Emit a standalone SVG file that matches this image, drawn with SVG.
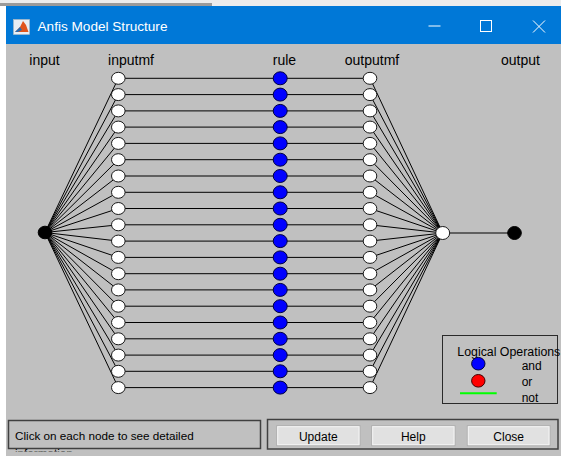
<svg xmlns="http://www.w3.org/2000/svg" width="561" height="456" viewBox="0 0 561 456">
<style>
.lbl{font-family:"Liberation Sans",Arial,sans-serif;font-size:14px;fill:#000;text-anchor:middle}
.sm{font-family:"Liberation Sans",Arial,sans-serif;font-size:12px;fill:#000}
.btn{fill:#e1e1e1;stroke:#adadad;stroke-width:1}
.btnt{font-family:"Liberation Sans",Arial,sans-serif;font-size:12px;fill:#000;text-anchor:middle}
.w{fill:#fff;stroke:#1a1a1a;stroke-width:1}
.b{fill:#0000ff;stroke:#000040;stroke-width:1}
.k{fill:#000;stroke:#000;stroke-width:1}
#connectors line{stroke:#000;stroke-width:1}
</style>
<defs>
<clipPath id="clipInfo"><rect x="9" y="421" width="251" height="30.5"/></clipPath>
</defs>
<!-- window chrome -->
<rect x="0" y="0" width="561" height="456" fill="#ffffff"/>
<rect x="0" y="0" width="561" height="6" fill="#ececec"/>
<rect x="0" y="3" width="212" height="3" fill="#9a9a9a"/>
<rect x="6" y="6" width="555" height="38" fill="#0078d7"/>
<rect x="6" y="44" width="555" height="412" fill="#c0c0c0"/>
<g id="titleicon">
<rect x="13.5" y="19.5" width="16" height="15" fill="#e8eef4" stroke="#b0b8c0" stroke-width="0.6"/>
<polygon points="15,32 20,27 23,21 26,25 28.5,32" fill="#e0541c"/>
<polygon points="15,32 20,27 22,30 18,32" fill="#2a6cb0"/>
</g>
<text x="37.5" y="30.5" font-family="'Liberation Sans',Arial,sans-serif" font-size="13.6" fill="#ffffff">Anfis Model Structure</text>
<line x1="428.5" y1="26" x2="440.5" y2="26" stroke="#ffffff" stroke-width="1"/>
<rect x="480.5" y="20.5" width="11" height="11" fill="none" stroke="#ffffff" stroke-width="1"/>
<path d="M533,20.5 L545,32.5 M545,20.5 L533,32.5" stroke="#ffffff" stroke-width="1" fill="none"/>

<!-- column labels -->
<text class="lbl" x="44.5" y="65">input</text>
<text class="lbl" x="131" y="65">inputmf</text>
<text class="lbl" x="284.5" y="65">rule</text>
<text class="lbl" x="372" y="65">outputmf</text>
<text class="lbl" x="520.5" y="65">output</text>

<g id="connectors">
<line x1="45" y1="232.5" x2="118.3" y2="78.3"/>
<line x1="45" y1="232.5" x2="118.3" y2="94.6"/>
<line x1="45" y1="232.5" x2="118.3" y2="110.9"/>
<line x1="45" y1="232.5" x2="118.3" y2="127.1"/>
<line x1="45" y1="232.5" x2="118.3" y2="143.4"/>
<line x1="45" y1="232.5" x2="118.3" y2="159.7"/>
<line x1="45" y1="232.5" x2="118.3" y2="176"/>
<line x1="45" y1="232.5" x2="118.3" y2="192.3"/>
<line x1="45" y1="232.5" x2="118.3" y2="208.5"/>
<line x1="45" y1="232.5" x2="118.3" y2="224.8"/>
<line x1="45" y1="232.5" x2="118.3" y2="241.1"/>
<line x1="45" y1="232.5" x2="118.3" y2="257.4"/>
<line x1="45" y1="232.5" x2="118.3" y2="273.7"/>
<line x1="45" y1="232.5" x2="118.3" y2="289.9"/>
<line x1="45" y1="232.5" x2="118.3" y2="306.2"/>
<line x1="45" y1="232.5" x2="118.3" y2="322.5"/>
<line x1="45" y1="232.5" x2="118.3" y2="338.8"/>
<line x1="45" y1="232.5" x2="118.3" y2="355.1"/>
<line x1="45" y1="232.5" x2="118.3" y2="371.3"/>
<line x1="45" y1="232.5" x2="118.3" y2="387.6"/>

<line x1="118.3" y1="78.3" x2="370" y2="78.3"/>
<line x1="118.3" y1="94.6" x2="370" y2="94.6"/>
<line x1="118.3" y1="110.9" x2="370" y2="110.9"/>
<line x1="118.3" y1="127.1" x2="370" y2="127.1"/>
<line x1="118.3" y1="143.4" x2="370" y2="143.4"/>
<line x1="118.3" y1="159.7" x2="370" y2="159.7"/>
<line x1="118.3" y1="176" x2="370" y2="176"/>
<line x1="118.3" y1="192.3" x2="370" y2="192.3"/>
<line x1="118.3" y1="208.5" x2="370" y2="208.5"/>
<line x1="118.3" y1="224.8" x2="370" y2="224.8"/>
<line x1="118.3" y1="241.1" x2="370" y2="241.1"/>
<line x1="118.3" y1="257.4" x2="370" y2="257.4"/>
<line x1="118.3" y1="273.7" x2="370" y2="273.7"/>
<line x1="118.3" y1="289.9" x2="370" y2="289.9"/>
<line x1="118.3" y1="306.2" x2="370" y2="306.2"/>
<line x1="118.3" y1="322.5" x2="370" y2="322.5"/>
<line x1="118.3" y1="338.8" x2="370" y2="338.8"/>
<line x1="118.3" y1="355.1" x2="370" y2="355.1"/>
<line x1="118.3" y1="371.3" x2="370" y2="371.3"/>
<line x1="118.3" y1="387.6" x2="370" y2="387.6"/>

<line x1="370" y1="78.3" x2="442.7" y2="233"/>
<line x1="370" y1="94.6" x2="442.7" y2="233"/>
<line x1="370" y1="110.9" x2="442.7" y2="233"/>
<line x1="370" y1="127.1" x2="442.7" y2="233"/>
<line x1="370" y1="143.4" x2="442.7" y2="233"/>
<line x1="370" y1="159.7" x2="442.7" y2="233"/>
<line x1="370" y1="176" x2="442.7" y2="233"/>
<line x1="370" y1="192.3" x2="442.7" y2="233"/>
<line x1="370" y1="208.5" x2="442.7" y2="233"/>
<line x1="370" y1="224.8" x2="442.7" y2="233"/>
<line x1="370" y1="241.1" x2="442.7" y2="233"/>
<line x1="370" y1="257.4" x2="442.7" y2="233"/>
<line x1="370" y1="273.7" x2="442.7" y2="233"/>
<line x1="370" y1="289.9" x2="442.7" y2="233"/>
<line x1="370" y1="306.2" x2="442.7" y2="233"/>
<line x1="370" y1="322.5" x2="442.7" y2="233"/>
<line x1="370" y1="338.8" x2="442.7" y2="233"/>
<line x1="370" y1="355.1" x2="442.7" y2="233"/>
<line x1="370" y1="371.3" x2="442.7" y2="233"/>
<line x1="370" y1="387.6" x2="442.7" y2="233"/>

<line x1="442.7" y1="233" x2="514.5" y2="233"/>
</g>

<g id="input1"><ellipse class="k" cx="45" cy="232.5" rx="6.8" ry="6.3"/></g>

<g id="inputmf1"><ellipse class="w" cx="118.3" cy="78.3" rx="6.8" ry="6"/></g>
<g id="inputmf2"><ellipse class="w" cx="118.3" cy="94.6" rx="6.8" ry="6"/></g>
<g id="inputmf3"><ellipse class="w" cx="118.3" cy="110.9" rx="6.8" ry="6"/></g>
<g id="inputmf4"><ellipse class="w" cx="118.3" cy="127.1" rx="6.8" ry="6"/></g>
<g id="inputmf5"><ellipse class="w" cx="118.3" cy="143.4" rx="6.8" ry="6"/></g>
<g id="inputmf6"><ellipse class="w" cx="118.3" cy="159.7" rx="6.8" ry="6"/></g>
<g id="inputmf7"><ellipse class="w" cx="118.3" cy="176" rx="6.8" ry="6"/></g>
<g id="inputmf8"><ellipse class="w" cx="118.3" cy="192.3" rx="6.8" ry="6"/></g>
<g id="inputmf9"><ellipse class="w" cx="118.3" cy="208.5" rx="6.8" ry="6"/></g>
<g id="inputmf10"><ellipse class="w" cx="118.3" cy="224.8" rx="6.8" ry="6"/></g>
<g id="inputmf11"><ellipse class="w" cx="118.3" cy="241.1" rx="6.8" ry="6"/></g>
<g id="inputmf12"><ellipse class="w" cx="118.3" cy="257.4" rx="6.8" ry="6"/></g>
<g id="inputmf13"><ellipse class="w" cx="118.3" cy="273.7" rx="6.8" ry="6"/></g>
<g id="inputmf14"><ellipse class="w" cx="118.3" cy="289.9" rx="6.8" ry="6"/></g>
<g id="inputmf15"><ellipse class="w" cx="118.3" cy="306.2" rx="6.8" ry="6"/></g>
<g id="inputmf16"><ellipse class="w" cx="118.3" cy="322.5" rx="6.8" ry="6"/></g>
<g id="inputmf17"><ellipse class="w" cx="118.3" cy="338.8" rx="6.8" ry="6"/></g>
<g id="inputmf18"><ellipse class="w" cx="118.3" cy="355.1" rx="6.8" ry="6"/></g>
<g id="inputmf19"><ellipse class="w" cx="118.3" cy="371.3" rx="6.8" ry="6"/></g>
<g id="inputmf20"><ellipse class="w" cx="118.3" cy="387.6" rx="6.8" ry="6"/></g>

<g id="rule1"><ellipse class="b" cx="280.2" cy="78.3" rx="7" ry="6.5"/></g>
<g id="rule2"><ellipse class="b" cx="280.2" cy="94.6" rx="7" ry="6.5"/></g>
<g id="rule3"><ellipse class="b" cx="280.2" cy="110.9" rx="7" ry="6.5"/></g>
<g id="rule4"><ellipse class="b" cx="280.2" cy="127.1" rx="7" ry="6.5"/></g>
<g id="rule5"><ellipse class="b" cx="280.2" cy="143.4" rx="7" ry="6.5"/></g>
<g id="rule6"><ellipse class="b" cx="280.2" cy="159.7" rx="7" ry="6.5"/></g>
<g id="rule7"><ellipse class="b" cx="280.2" cy="176" rx="7" ry="6.5"/></g>
<g id="rule8"><ellipse class="b" cx="280.2" cy="192.3" rx="7" ry="6.5"/></g>
<g id="rule9"><ellipse class="b" cx="280.2" cy="208.5" rx="7" ry="6.5"/></g>
<g id="rule10"><ellipse class="b" cx="280.2" cy="224.8" rx="7" ry="6.5"/></g>
<g id="rule11"><ellipse class="b" cx="280.2" cy="241.1" rx="7" ry="6.5"/></g>
<g id="rule12"><ellipse class="b" cx="280.2" cy="257.4" rx="7" ry="6.5"/></g>
<g id="rule13"><ellipse class="b" cx="280.2" cy="273.7" rx="7" ry="6.5"/></g>
<g id="rule14"><ellipse class="b" cx="280.2" cy="289.9" rx="7" ry="6.5"/></g>
<g id="rule15"><ellipse class="b" cx="280.2" cy="306.2" rx="7" ry="6.5"/></g>
<g id="rule16"><ellipse class="b" cx="280.2" cy="322.5" rx="7" ry="6.5"/></g>
<g id="rule17"><ellipse class="b" cx="280.2" cy="338.8" rx="7" ry="6.5"/></g>
<g id="rule18"><ellipse class="b" cx="280.2" cy="355.1" rx="7" ry="6.5"/></g>
<g id="rule19"><ellipse class="b" cx="280.2" cy="371.3" rx="7" ry="6.5"/></g>
<g id="rule20"><ellipse class="b" cx="280.2" cy="387.6" rx="7" ry="6.5"/></g>

<g id="outputmf1"><ellipse class="w" cx="370" cy="78.3" rx="6.8" ry="6"/></g>
<g id="outputmf2"><ellipse class="w" cx="370" cy="94.6" rx="6.8" ry="6"/></g>
<g id="outputmf3"><ellipse class="w" cx="370" cy="110.9" rx="6.8" ry="6"/></g>
<g id="outputmf4"><ellipse class="w" cx="370" cy="127.1" rx="6.8" ry="6"/></g>
<g id="outputmf5"><ellipse class="w" cx="370" cy="143.4" rx="6.8" ry="6"/></g>
<g id="outputmf6"><ellipse class="w" cx="370" cy="159.7" rx="6.8" ry="6"/></g>
<g id="outputmf7"><ellipse class="w" cx="370" cy="176" rx="6.8" ry="6"/></g>
<g id="outputmf8"><ellipse class="w" cx="370" cy="192.3" rx="6.8" ry="6"/></g>
<g id="outputmf9"><ellipse class="w" cx="370" cy="208.5" rx="6.8" ry="6"/></g>
<g id="outputmf10"><ellipse class="w" cx="370" cy="224.8" rx="6.8" ry="6"/></g>
<g id="outputmf11"><ellipse class="w" cx="370" cy="241.1" rx="6.8" ry="6"/></g>
<g id="outputmf12"><ellipse class="w" cx="370" cy="257.4" rx="6.8" ry="6"/></g>
<g id="outputmf13"><ellipse class="w" cx="370" cy="273.7" rx="6.8" ry="6"/></g>
<g id="outputmf14"><ellipse class="w" cx="370" cy="289.9" rx="6.8" ry="6"/></g>
<g id="outputmf15"><ellipse class="w" cx="370" cy="306.2" rx="6.8" ry="6"/></g>
<g id="outputmf16"><ellipse class="w" cx="370" cy="322.5" rx="6.8" ry="6"/></g>
<g id="outputmf17"><ellipse class="w" cx="370" cy="338.8" rx="6.8" ry="6"/></g>
<g id="outputmf18"><ellipse class="w" cx="370" cy="355.1" rx="6.8" ry="6"/></g>
<g id="outputmf19"><ellipse class="w" cx="370" cy="371.3" rx="6.8" ry="6"/></g>
<g id="outputmf20"><ellipse class="w" cx="370" cy="387.6" rx="6.8" ry="6"/></g>

<g id="aggregate"><ellipse class="w" cx="442.7" cy="233" rx="7" ry="6.5"/></g>
<g id="output1"><ellipse class="k" cx="514.5" cy="233" rx="6.8" ry="6.5"/></g>

<!-- legend -->
<g id="legend">
<rect x="442.5" y="335.5" width="115" height="68" fill="#c0c0c0" stroke="#2a2a2a" stroke-width="1"/>
<text class="sm" x="457.3" y="355.5" font-size="12.4" textLength="103" lengthAdjust="spacingAndGlyphs">Logical Operations</text>
<ellipse cx="478.3" cy="363.7" rx="6.7" ry="6.3" fill="#0000ff" stroke="#000040" stroke-width="1"/>
<ellipse cx="478.3" cy="380.8" rx="6.7" ry="6.3" fill="#ff0000" stroke="#400000" stroke-width="1"/>
<line x1="460" y1="393.3" x2="496.7" y2="393.3" stroke="#00ff00" stroke-width="2"/>
<text class="sm" x="521.7" y="369.5">and</text>
<text class="sm" x="521.7" y="385.5">or</text>
<text class="sm" x="521.7" y="402">not</text>
</g>

<!-- status area -->
<g id="status">
<rect x="8.5" y="420.5" width="252" height="28" fill="#c0c0c0" stroke="#404040" stroke-width="1.5"/>
<text x="15" y="440" font-family="'Liberation Sans',Arial,sans-serif" font-size="11.7" fill="#000">Click on each node to see detailed</text>
<text x="15" y="457" font-family="'Liberation Sans',Arial,sans-serif" font-size="11.7" fill="#000" clip-path="url(#clipInfo)">information</text>
</g>

<!-- buttons -->
<g id="buttons">
<rect x="267.5" y="419.5" width="290.5" height="29.5" fill="#c0c0c0" stroke="#404040" stroke-width="1.5"/>
<g id="btnUpdate"><rect class="btn" x="276.7" y="425.7" width="83.3" height="20"/><rect x="277.7" y="426.7" width="81.3" height="18" fill="none" stroke="#f4f4f4" stroke-width="1"/><text class="btnt" x="318.3" y="441">Update</text></g>
<g id="btnHelp"><rect class="btn" x="371.7" y="425.7" width="83.3" height="20"/><rect x="372.7" y="426.7" width="81.3" height="18" fill="none" stroke="#f4f4f4" stroke-width="1"/><text class="btnt" x="413.3" y="441">Help</text></g>
<g id="btnClose"><rect class="btn" x="467.3" y="425.7" width="82.7" height="20"/><rect x="468.3" y="426.7" width="80.7" height="18" fill="none" stroke="#f4f4f4" stroke-width="1"/><text class="btnt" x="508.7" y="441">Close</text></g>
</g>
</svg>
